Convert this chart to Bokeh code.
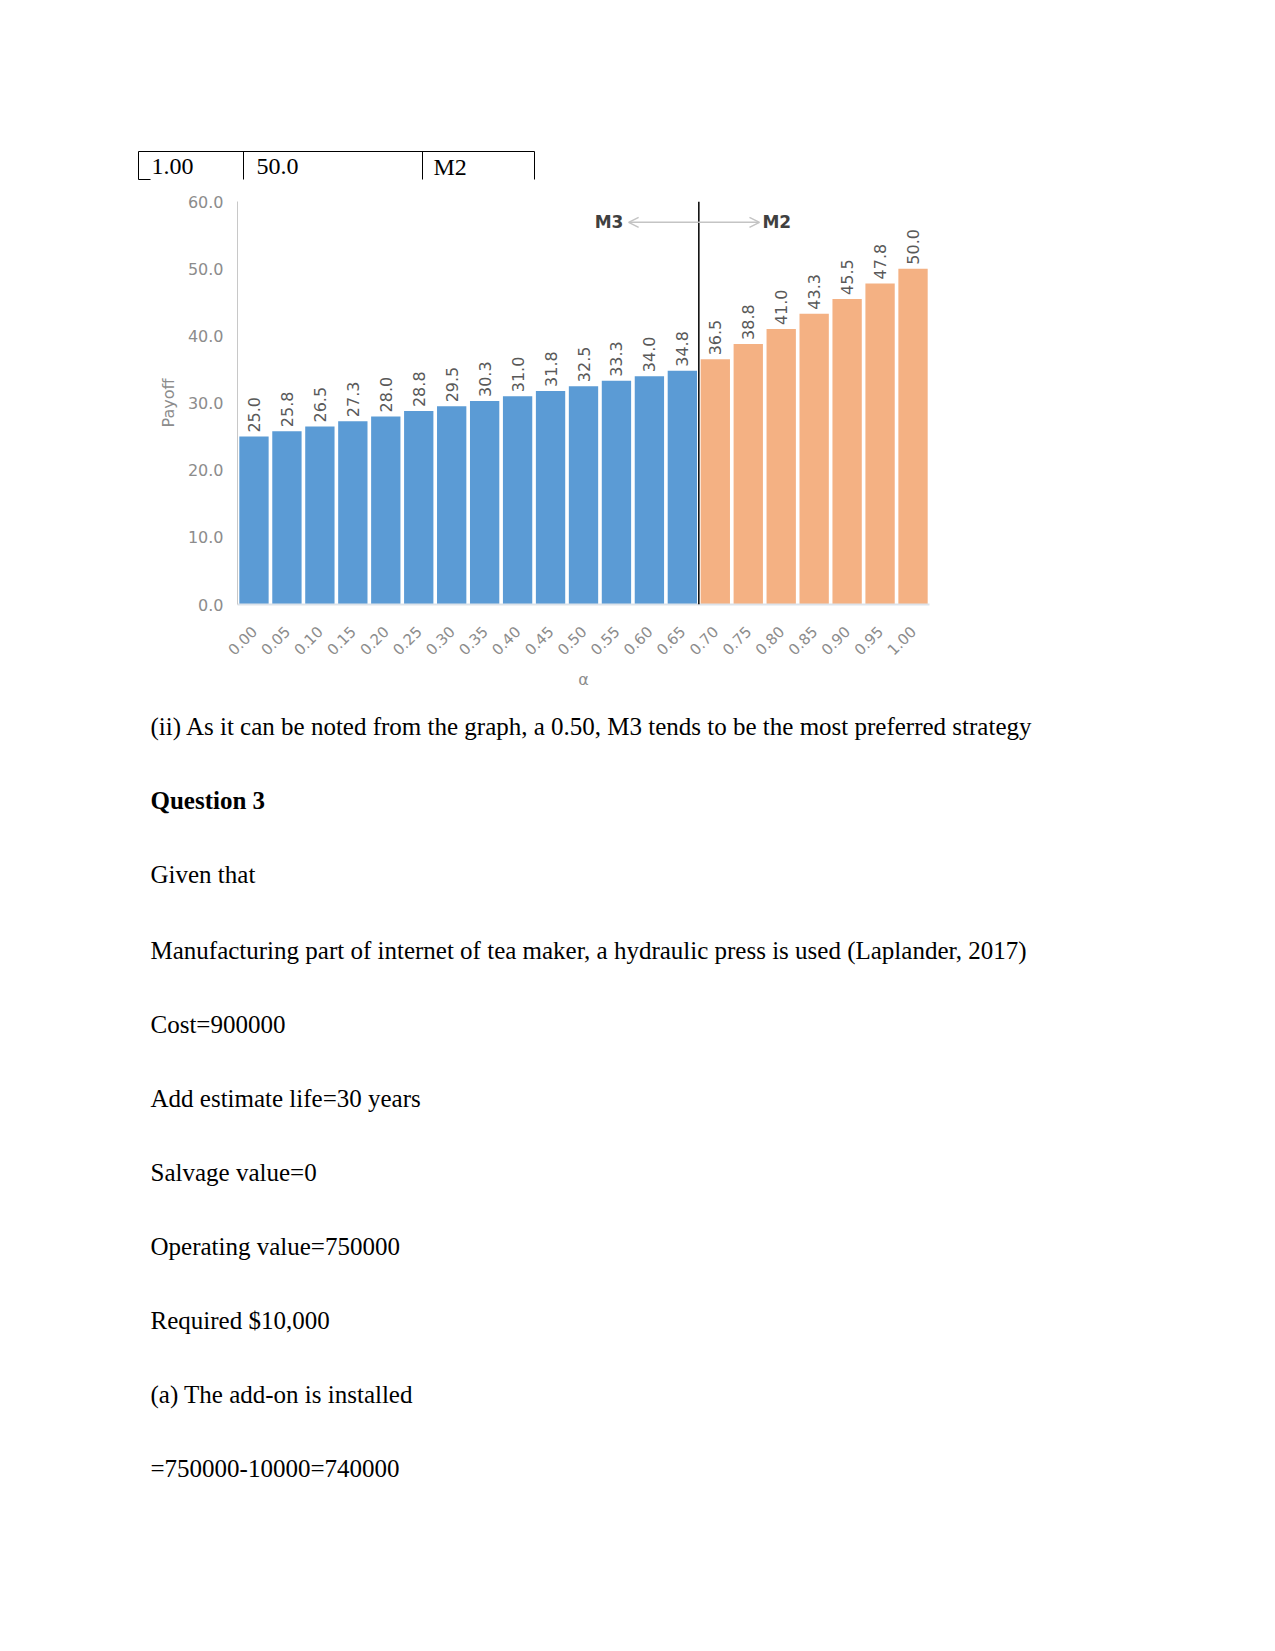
import math
from bokeh.plotting import figure
from bokeh.models import (ColumnDataSource, FactorRange, Range1d, FixedTicker,
                          PrintfTickFormatter, Arrow, OpenHead, Span)
from bokeh.layouts import column
from bokeh.core.properties import value
from bokeh.embed import file_html
from bokeh.resources import INLINE

# ---------------- data ----------------
alpha_labels = ["0.00", "0.05", "0.10", "0.15", "0.20", "0.25", "0.30", "0.35",
                "0.40", "0.45", "0.50", "0.55", "0.60", "0.65", "0.70", "0.75",
                "0.80", "0.85", "0.90", "0.95", "1.00"]
payoff = [25.0, 25.8, 26.5, 27.3, 28.0, 28.8, 29.5, 30.3, 31.0, 31.8, 32.5,
          33.3, 34.0, 34.8, 36.5, 38.8, 41.0, 43.3, 45.5, 47.8, 50.0]
strategy = ["M3"] * 14 + ["M2"] * 7
y_ticks = [0, 10, 20, 30, 40, 50, 60]
strategy_colors = {"M3": "#5B9BD5", "M2": "#F4B183"}

table_row = ["1.00", "50.0", "M2"]

doc_lines = [
    "(ii) As it can be noted from the graph, a  0.50, M3 tends to be the most preferred strategy",
    "Question 3",
    "Given that",
    "Manufacturing part of internet of tea maker, a hydraulic press is used (Laplander, 2017)",
    "Cost=900000",
    "Add estimate life=30 years",
    "Salvage value=0",
    "Operating value=750000",
    "Required $10,000",
    "(a) The add-on is installed",
    "=750000-10000=740000",
]
bold_lines = {"Question 3"}

W = 1259
SERIF = value("Liberation Serif")
SANS = value("DejaVu Sans")


def blank(height, y_top, y_bottom):
    f = figure(width=W, height=height, x_range=Range1d(0, W),
               y_range=Range1d(y_bottom, y_top), output_backend="svg",
               toolbar_location=None, min_border=0, min_border_left=0,
               min_border_right=0, min_border_top=0, min_border_bottom=0,
               frame_align=False)
    f.axis.visible = False
    f.grid.visible = False
    f.outline_line_color = None
    return f


# ---------------- top: table row ----------------
p1 = blank(190, 0, 190)
col_x = [138, 243, 422, 534]
row_top, row_bot = 151, 179
p1.segment(x0=[col_x[0]], y0=[row_top], x1=[col_x[-1]], y1=[row_top],
           line_color="black", line_width=1)
p1.segment(x0=col_x, y0=[row_top] * 4, x1=col_x, y1=[row_bot] * 4,
           line_color="black", line_width=1)
p1.segment(x0=[col_x[0]], y0=[row_bot], x1=[col_x[0] + 12], y1=[row_bot],
           line_color="black", line_width=1)
p1.text(x=[151, 256, 433], y=[166] * 3, text=table_row, text_font=SERIF,
        text_font_size=value("24px"), text_baseline="alphabetic",
        text_align="left", text_color="black")

# ---------------- chart ----------------
src = ColumnDataSource(dict(
    alpha=alpha_labels,
    payoff=payoff,
    label=["%.1f" % v for v in payoff],
    color=[strategy_colors[s] for s in strategy],
))

p2 = figure(width=W, height=510, x_range=FactorRange(*alpha_labels),
            y_range=Range1d(0, 60), output_backend="svg", toolbar_location=None,
            min_border_left=237, min_border_right=330, min_border_top=11,
            min_border_bottom=96, frame_align=False)
p2.grid.visible = False
p2.outline_line_color = None

p2.vbar(x="alpha", top="payoff", width=0.89, fill_color="color",
        line_color=None, source=src)
p2.text(x="alpha", y="payoff", text="label", angle=math.pi / 2,
        text_align="left", text_baseline="middle", y_offset=-4,
        text_font=SANS, text_font_size=value("16px"), text_color="#595959",
        source=src)

split = strategy.count("M3")
p2.add_layout(Span(location=split, dimension="height", line_color="black",
                   line_width=1.5))
arrow_y = 56.9
grey = "#c4c4c4"
p2.add_layout(Arrow(end=OpenHead(size=10, line_color=grey, line_width=1.5),
                    x_start=split, y_start=arrow_y, x_end=split - 2.13,
                    y_end=arrow_y, line_color=grey, line_width=1.5))
p2.add_layout(Arrow(end=OpenHead(size=10, line_color=grey, line_width=1.5),
                    x_start=split, y_start=arrow_y, x_end=split + 1.84,
                    y_end=arrow_y, line_color=grey, line_width=1.5))
p2.text(x=[split - 2.29], y=[arrow_y], text=["M3"], text_align="right",
        text_baseline="middle", text_font=SANS, text_font_style="bold",
        text_font_size=value("17px"), text_color="#404040")
p2.text(x=[split + 1.93], y=[arrow_y], text=["M2"], text_align="left",
        text_baseline="middle", text_font=SANS, text_font_style="bold",
        text_font_size=value("17px"), text_color="#404040")

tick_col = "#8c8c8c"
yax = p2.yaxis[0]
yax.ticker = FixedTicker(ticks=y_ticks)
yax.formatter = PrintfTickFormatter(format="%.1f")
yax.axis_line_color = "#c8c8c8"
yax.major_tick_line_color = None
yax.minor_tick_line_color = None
yax.major_label_standoff = 8
yax.major_label_text_font = "DejaVu Sans"
yax.major_label_text_font_size = "16px"
yax.major_label_text_color = tick_col
yax.axis_label = "Payoff"
yax.axis_label_text_font = "DejaVu Sans"
yax.axis_label_text_font_style = "normal"
yax.axis_label_text_font_size = "16px"
yax.axis_label_text_color = tick_col
yax.axis_label_standoff = 7

xax = p2.xaxis[0]
xax.axis_line_color = "#dde3ea"
xax.axis_line_width = 2
xax.major_tick_line_color = None
xax.minor_tick_line_color = None
xax.major_label_orientation = math.pi / 4
xax.major_label_standoff = 18
xax.major_label_text_font = "DejaVu Sans"
xax.major_label_text_font_size = "15px"
xax.major_label_text_color = tick_col
xax.axis_label = "α"
xax.axis_label_text_font = "DejaVu Sans"
xax.axis_label_text_font_style = "normal"
xax.axis_label_text_font_size = "16px"
xax.axis_label_text_color = tick_col
xax.axis_label_standoff = 6

# ---------------- document text below ----------------
p3 = blank(930, 700, 1630)
baselines = [726, 800, 874, 950, 1024, 1098, 1172, 1246, 1320, 1394, 1468]
normal = [(t, b) for t, b in zip(doc_lines, baselines) if t not in bold_lines]
bold = [(t, b) for t, b in zip(doc_lines, baselines) if t in bold_lines]
p3.text(x=[150] * len(normal), y=[b for _, b in normal],
        text=[t for t, _ in normal], text_font=SERIF,
        text_font_size=value("25px"), text_baseline="alphabetic",
        text_align="left", text_color="black")
p3.text(x=[150] * len(bold), y=[b for _, b in bold], text=[t for t, _ in bold],
        text_font=SERIF, text_font_style="bold", text_font_size=value("25px"),
        text_baseline="alphabetic", text_align="left", text_color="black")

layout = column(p1, p2, p3, spacing=0)
open("out.html", "w").write(file_html(layout, INLINE))
